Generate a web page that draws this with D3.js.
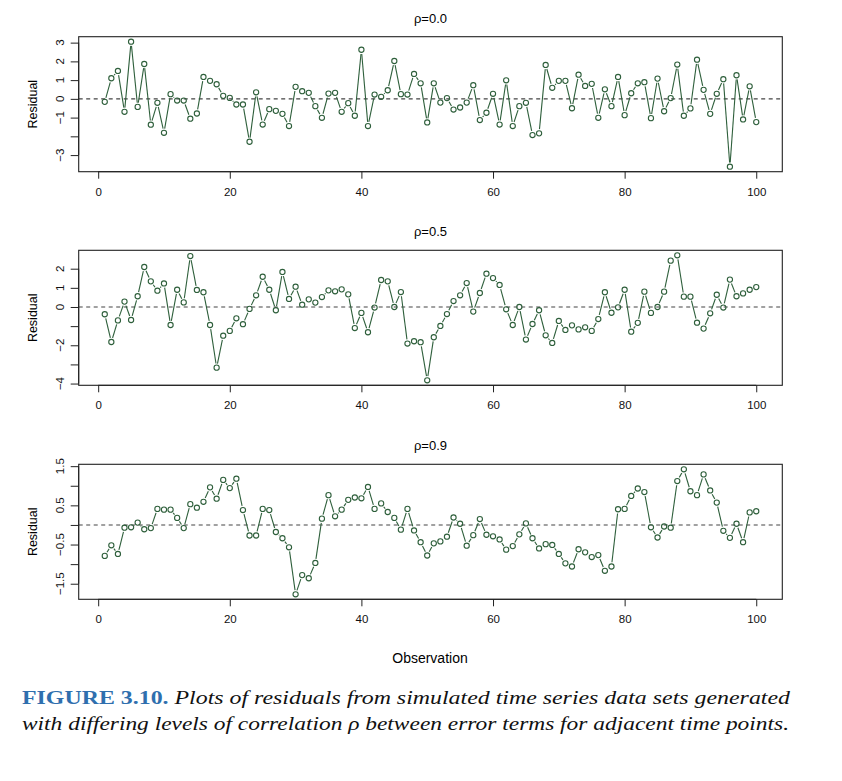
<!DOCTYPE html>
<html><head><meta charset="utf-8">
<script src="https://cdn.jsdelivr.net/npm/d3@7"></script>
<style>body{margin:0;background:#fff}svg{display:block}</style>
</head><body>
<script>
const observations = d3.range(1, 101);
const rho00 = [-0.16,1.10,1.49,-0.69,3.05,-0.43,1.86,-1.38,-0.21,-1.81,
0.25,-0.09,-0.09,-1.06,-0.78,1.17,0.96,0.78,0.16,0.05,
-0.30,-0.30,-2.29,0.35,-1.37,-0.55,-0.64,-0.80,-1.45,0.64,
0.41,0.32,-0.39,-1.01,0.28,0.32,-0.69,-0.23,-0.90,2.62,
-1.45,0.23,0.11,0.46,2.02,0.25,0.23,1.33,0.83,-1.26,
0.83,-0.20,0.04,-0.57,-0.46,-0.20,0.73,-1.13,-0.74,0.27,
-1.37,0.99,-1.45,-0.39,-0.21,-1.93,-1.84,1.81,0.59,0.96,
0.96,-0.50,1.29,0.69,0.80,-1.01,0.51,-0.39,1.17,-0.87,
0.30,0.83,0.89,-1.03,1.08,-0.66,0.04,1.83,-0.90,-0.51,
2.09,0.48,-0.80,0.27,1.05,-3.62,1.26,-1.10,0.67,-1.24];
const rho05 = [-0.38,-1.83,-0.70,0.28,-0.68,0.56,2.09,1.34,0.85,1.23,
-0.94,0.90,0.24,2.66,0.89,0.77,-0.94,-3.17,-1.50,-1.25,
-0.59,-0.90,-0.10,0.61,1.58,0.90,-0.17,1.83,0.42,1.06,
0.12,0.40,0.23,0.52,0.87,0.82,0.92,0.66,-1.10,-0.31,
-1.32,-0.03,1.41,1.34,0.00,0.78,-1.91,-1.79,-1.84,-3.83,
-1.58,-0.99,-0.37,0.31,0.61,1.25,-0.24,0.73,1.74,1.51,
1.15,-0.12,-0.94,0.00,-1.70,-0.89,-0.17,-1.48,-1.88,-0.73,
-1.20,-0.96,-1.17,-1.06,-1.25,-0.63,0.77,-0.30,-0.02,0.90,
-1.29,-0.83,0.80,-0.31,0.00,0.80,2.42,2.70,0.54,0.54,
-0.82,-1.13,-0.33,0.64,-0.03,1.43,0.56,0.71,0.90,1.04];
const rho09 = [-0.79,-0.52,-0.74,-0.07,-0.06,0.06,-0.11,-0.08,0.41,0.39,
0.39,0.18,-0.08,0.53,0.44,0.59,0.96,0.67,1.15,0.94,
1.18,0.38,-0.27,-0.27,0.41,0.38,-0.18,-0.34,-0.57,-1.77,
-1.28,-1.36,-0.97,0.16,0.76,0.22,0.39,0.64,0.70,0.68,
0.97,0.41,0.55,0.33,0.18,-0.12,0.41,-0.14,-0.44,-0.78,
-0.47,-0.42,-0.30,0.19,0.03,-0.53,-0.26,0.15,-0.25,-0.29,
-0.37,-0.63,-0.54,-0.24,0.04,-0.34,-0.60,-0.49,-0.51,-0.74,
-0.98,-1.06,-0.62,-0.70,-0.82,-0.77,-1.17,-1.06,0.40,0.41,
0.74,0.93,0.84,-0.06,-0.32,-0.04,-0.07,1.12,1.42,0.86,
0.76,1.29,0.88,0.57,-0.15,-0.33,0.03,-0.44,0.32,0.35];
const panelTitles = ["\u03c1=0.0", "\u03c1=0.5", "\u03c1=0.9"];
const xTicks = [0, 20, 40, 60, 80, 100];
const yTicks0 = [-3,-2,-1,0,1,2,3], yLabels0 = [-3,-1,0,1,2,3];
const yTicks5 = [-4,-3,-2,-1,0,1,2], yLabels5 = [-4,-2,0,1,2];
const yTicks9 = [-1.5,-1,-0.5,0,0.5,1,1.5], yLabels9 = [-1.5,-0.5,0.5,1.5];
const xLabel = "Observation", yLabel = "Residual";

const panels = [
  {title: panelTitles[0], values: rho00, ticks: yTicks0, labels: yLabels0, top: 36.7},
  {title: panelTitles[1], values: rho05, ticks: yTicks5, labels: yLabels5, top: 250.3},
  {title: panelTitles[2], values: rho09, ticks: yTicks9, labels: yLabels9, top: 464.3}
];

const W = 842, H = 781;
const left = 78.7, right = 782.3, ph = 135;
const green = "#2e5f3b";
const font = "'Liberation Sans', Arial, Helvetica, sans-serif";
const svg = d3.select("body").append("svg").attr("width", W).attr("height", H);

const pad = (lo, hi) => { const r = hi - lo; return [lo - 0.04*r, hi + 0.04*r]; };
const x = d3.scaleLinear().domain(pad(1, 100)).range([left, right]);
const fmt = v => (v < 0 ? "\u2212" : "") + Math.abs(v);

panels.forEach(p => {
  const top = p.top, bottom = top + ph;
  const y = d3.scaleLinear().domain(pad(d3.min(p.values), d3.max(p.values))).range([bottom, top]);
  const g = svg.append("g");
  g.append("text").attr("x", (left+right)/2).attr("y", top - 14)
    .attr("text-anchor", "middle").attr("font-family", font).attr("font-size", 13).text(p.title);
  g.append("rect").attr("x", left).attr("y", top).attr("width", right-left).attr("height", ph)
    .attr("fill", "none").attr("stroke", "#222").attr("stroke-width", 1.1);
  g.append("line").attr("x1", left).attr("x2", right).attr("y1", y(0)).attr("y2", y(0))
    .attr("stroke", "#444").attr("stroke-width", 1.1).attr("stroke-dasharray", "4,3.5");
  const xa = g.append("g").attr("transform", `translate(0,${bottom})`)
    .call(d3.axisBottom(x).tickValues(xTicks).tickSize(7).tickSizeOuter(0).tickPadding(9).tickFormat(d => d));
  xa.select(".domain").attr("stroke", "#222").attr("d", `M${x(0)},0H${x(100)}`);
  xa.selectAll(".tick line").attr("stroke", "#222");
  xa.selectAll("text").attr("font-family", font).attr("font-size", 11.5).attr("fill", "#111");
  const ya = g.append("g").attr("transform", `translate(${left},0)`)
    .call(d3.axisLeft(y).tickValues(p.ticks).tickSize(8).tickSizeOuter(0).tickFormat(""));
  ya.select(".domain").attr("stroke", "#222").attr("d", `M0,${y(d3.min(p.ticks))}V${y(d3.max(p.ticks))}`);
  ya.selectAll(".tick line").attr("stroke", "#222");
  g.selectAll(".ylab").data(p.labels).enter().append("text")
    .attr("transform", d => `translate(${left-15},${y(d)}) rotate(-90)`)
    .attr("text-anchor", "middle").attr("font-family", font).attr("font-size", 11.5).attr("fill", "#111")
    .text(fmt);
  g.append("text").attr("transform", `translate(37,${(top+bottom)/2}) rotate(-90)`)
    .attr("text-anchor", "middle").attr("font-family", font).attr("font-size", 12.5).text(yLabel);
  const pts = p.values.map((v, i) => [x(observations[i]), y(v)]);
  const gap = 4.2;
  const segs = [];
  for (let i = 0; i < pts.length - 1; i++) {
    const [x1, y1] = pts[i], [x2, y2] = pts[i+1];
    const dx = x2 - x1, dy = y2 - y1, d = Math.hypot(dx, dy);
    if (d > 2*gap + 0.5) {
      const ux = dx/d, uy = dy/d;
      segs.push([x1 + ux*gap, y1 + uy*gap, x2 - ux*gap, y2 - uy*gap]);
    }
  }
  g.selectAll(".seg").data(segs).enter().append("line")
    .attr("x1", d => d[0]).attr("y1", d => d[1]).attr("x2", d => d[2]).attr("y2", d => d[3])
    .attr("stroke", green).attr("stroke-width", 1.1);
  g.selectAll(".pt").data(p.values).enter().append("circle")
    .attr("cx", (d, i) => x(observations[i])).attr("cy", d => y(d)).attr("r", 2.6)
    .attr("fill", "none").attr("stroke", green).attr("stroke-width", 1.1);
});

svg.append("text").attr("x", 430).attr("y", 663).attr("text-anchor", "middle")
  .attr("font-family", font).attr("font-size", 14).text(xLabel);

const serif = "'Liberation Serif', 'DejaVu Serif', serif";
const c1 = svg.append("text").attr("x", 22).attr("y", 704).attr("font-family", serif).attr("font-size", 19)
  .attr("textLength", 768).attr("lengthAdjust", "spacingAndGlyphs");
c1.append("tspan").attr("font-weight", "bold").attr("fill", "#2f6fae").text("FIGURE 3.10. ");
c1.append("tspan").attr("font-style", "italic").attr("fill", "#111")
  .text("Plots of residuals from simulated time series data sets generated");
svg.append("text").attr("x", 22).attr("y", 730).attr("font-family", serif).attr("font-size", 19)
  .attr("font-style", "italic").attr("fill", "#111")
  .attr("textLength", 767).attr("lengthAdjust", "spacingAndGlyphs")
  .text("with differing levels of correlation \u03c1 between error terms for adjacent time points.");
</script>
</body></html>
